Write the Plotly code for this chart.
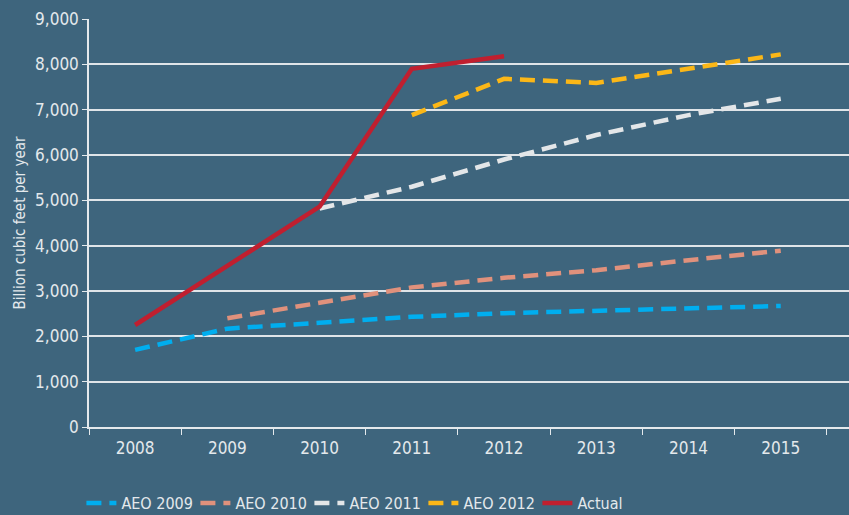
import plotly.graph_objects as go

years = ["2008", "2009", "2010", "2011", "2012", "2013", "2014", "2015"]

aeo2009 = [1700, 2170, 2300, 2430, 2510, 2570, 2610, 2670]
aeo2010 = [None, 2400, 2750, 3080, 3290, 3460, 3680, 3890]
aeo2011 = [None, None, 4820, 5300, 5900, 6440, 6880, 7240]
aeo2012 = [None, None, None, 6880, 7680, 7590, 7900, 8220]
actual = [2250, 3550, 4860, 7900, 8180, None, None, None]

BG = "#3e657d"
TXT = "#e4e9ec"
FONT = "DejaVu Sans Condensed, Liberation Sans Narrow, sans-serif"

fig = go.Figure()
series = [
    ("AEO 2009", aeo2009, "#00aeef", "15px,8px"),
    ("AEO 2010", aeo2010, "#e0917c", "15px,8px"),
    ("AEO 2011", aeo2011, "#e3e6e8", "15px,8px"),
    ("AEO 2012", aeo2012, "#fbb717", "15px,8px"),
    ("Actual", actual, "#c01f2f", "solid"),
]
for name, vals, col, dash in series:
    fig.add_trace(go.Scatter(
        x=years, y=vals, name=name, mode="lines",
        line=dict(color=col, width=4.5, dash=dash),
    ))

fig.update_layout(
    width=849, height=515,
    paper_bgcolor=BG, plot_bgcolor=BG,
    margin=dict(l=89, r=0, t=19, b=88, autoexpand=False),
    font=dict(family=FONT, color=TXT, size=15),
    legend=dict(
        orientation="h", x=-0.01, y=-0.145, yanchor="top", xanchor="left",
        entrywidth=69, entrywidthmode="pixels",
        font=dict(size=16, color=TXT),
        bgcolor="rgba(0,0,0,0)",
    ),
)
fig.update_xaxes(
    type="category", range=[-0.5, 7.74], automargin=False,
    showgrid=False, showline=True, linecolor=TXT, linewidth=1.5,
    ticks="outside", tickson="boundaries", ticklen=6, tickcolor=TXT,
    tickfont=dict(size=17, color=TXT), ticklabelstandoff=5,
)
fig.update_yaxes(
    range=[0, 9000], tickvals=list(range(0, 9001, 1000)), automargin=False,
    tickformat=",", showgrid=True, gridcolor="#dfe4e8", gridwidth=1.5,
    showline=True, linecolor=TXT, linewidth=1.5,
    ticks="outside", ticklen=5, tickcolor=TXT,
    tickfont=dict(size=17, color=TXT), zeroline=False,
    title=dict(text="Billion cubic feet per year", font=dict(size=15, color=TXT), standoff=6),
)

# drop the default page margin so the figure sits at the window corner
fig.write_html("out.html", config={"displayModeBar": False},
               post_script="document.body.style.margin='0';")
